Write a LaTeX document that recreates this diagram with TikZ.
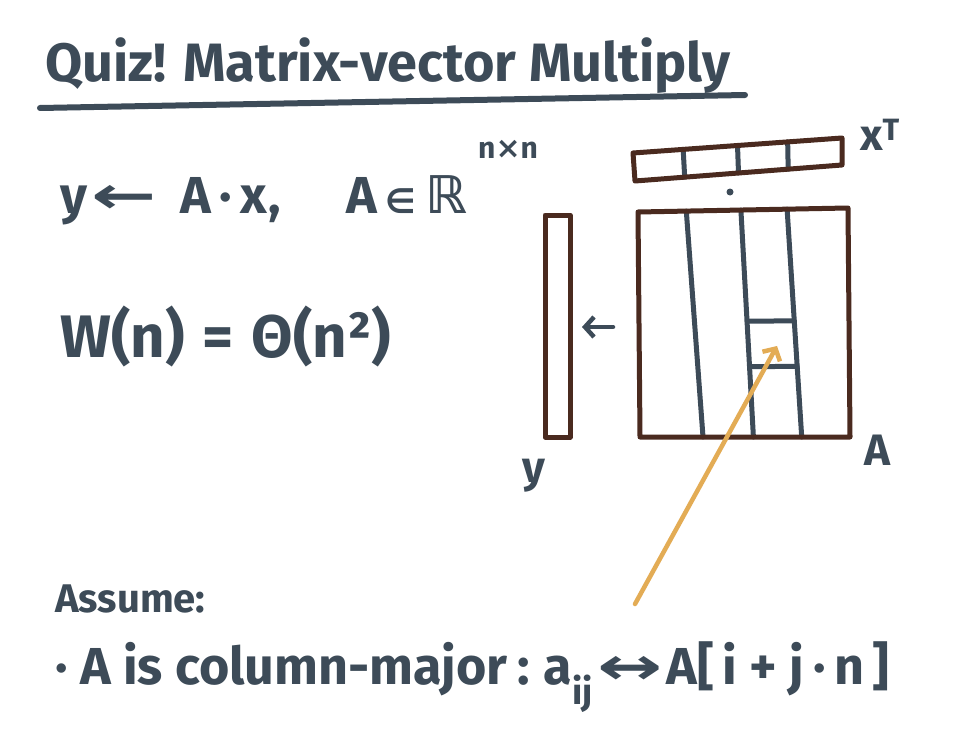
\documentclass[tikz,border=0pt]{standalone}
\usepackage{fontspec}
\setmainfont{Fira Sans}
\newfontfamily\symfont{DejaVu Sans}
\usetikzlibrary{arrows.meta, positioning, calc}
\definecolor{ink}{HTML}{3D4B58}
\definecolor{boxbrown}{HTML}{4A2A1F}
\definecolor{pointer}{HTML}{E3AC55}
\newcommand{\hand}[1]{\fontsize{#1}{#1}\selectfont\bfseries}
\newcommand{\wide}[1]{\scalebox{1.5}[1]{\symfont #1}}

\begin{document}
\begin{tikzpicture}[x=1pt, y=-1pt, line cap=round, line join=round,
    txt/.style={text=ink, inner sep=0pt, anchor=base west},
    frame/.style={draw=boxbrown, line width=5pt},
    grid/.style={draw=ink, line width=5pt},
    pen/.style={draw=ink, line width=4.5pt, -{Straight Barb[length=9pt, width=20pt, line width=4.5pt]}}]
  \fill[white] (0,0) rectangle (960,749);
  \useasboundingbox (0,0) rectangle (960,749);

  % Titre
  \node[txt, font=\hand{54}] (title) at (45,82) {Quiz! Matrix-vector Multiply};
  \draw[ink, line width=6pt] (40,108) -- (745,95);

  % Enonce
  \node[txt, font=\hand{52}] (prod) at (60,213)
    {y\hspace{4pt}\wide{←}\hspace{24pt}A\,·\,x,\hspace{66pt}A\,{\symfont\fontsize{34}{34}\selectfont ∈}\,{\symfont ℝ}};
  \node[txt, font=\hand{30}] (dim) at (478,158) {n{\symfont ×}n};
  \node[txt, font=\hand{60}] (work) at (60,357) {W(n)\hspace{18pt}=\hspace{18pt}Θ(n²)};

  % Vecteur x^T
  \coordinate (xtl) at (633,153);
  \coordinate (xtr) at (842,138);
  \coordinate (xbr) at (842,165);
  \coordinate (xbl) at (635,181);
  \foreach \t in {0.24,0.5,0.74}
    \draw[grid] ($(xtl)!\t!(xtr)$) -- ($(xbl)!\t!(xbr)$);
  \draw[frame] (xtl) -- (xtr) -- (xbr) -- (xbl) -- cycle;
  \fill[ink] (730,192) circle (3.5pt);
  \node[txt, font=\hand{44}] (xlab) at (860,150) {x\textsuperscript{T}};

  % Matrice A
  \coordinate (atl) at (638,212);
  \coordinate (atr) at (848,208);
  \coordinate (abr) at (850,437);
  \coordinate (abl) at (640,437);
  \foreach \a/\b [count=\i] in {0.23/0.30, 0.49/0.54, 0.71/0.77}
    \draw[grid] ($(atl)!\a!(atr)$) coordinate (c\i t) -- ($(abl)!\b!(abr)$) coordinate (c\i b);
  \draw[grid] ($(c2t)!0.49!(c2b)$) -- ($(c3t)!0.49!(c3b)$);
  \draw[grid] ($(c2t)!0.69!(c2b)$) -- ($(c3t)!0.69!(c3b)$);
  \coordinate (cell) at (777,346);
  \draw[frame] (atl) -- (atr) -- (abr) -- (abl) -- cycle;
  \node[txt, font=\hand{44}] (alab) at (864,465) {A};

  % Vecteur y
  \draw[frame] (545,215) rectangle (570,437);
  \coordinate (matl) at (613,327);
  \coordinate (yr) at (582,327);
  \draw[pen] (matl) -- (yr);
  \node[txt, font=\hand{44}] (ylab) at (522,482) {y};

  % Hypotheses
  \node[txt, font=\hand{40}] (assume) at (55,612) {Assume:};
  \node[txt, font=\hand{52}] (layout) at (55,684)
    {· A is column-major\hspace{10pt}:\hspace{14pt}a\textsubscript{ij}\hspace{4pt}\wide{↔}\hspace{4pt}A[\,i + j\,·\,n\,]};

  % Element a_ij
  \coordinate (tail) at (635,604);
  \draw[pen, draw=pointer] (tail) -- (cell);
\end{tikzpicture}
\end{document}
